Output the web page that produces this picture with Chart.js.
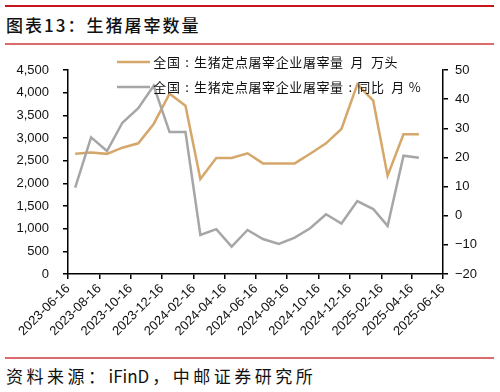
<!DOCTYPE html>
<html>
<head>
<meta charset="utf-8">
<script src="https://cdn.jsdelivr.net/npm/chart.js@4/dist/chart.umd.min.js"></script>
<style>
  html, body { margin: 0; padding: 0; background: #fff; }
  body { width: 500px; height: 392px; position: relative; overflow: hidden; }
  .rule { position: absolute; left: 5px; width: 489px; }
  #title { position: absolute; left: 6px; top: 15px; font: 17px/20px "Noto Sans CJK SC", sans-serif; letter-spacing: 2px; color: #111; font-weight: 500; white-space: nowrap; }
  #source { position: absolute; left: 6px; top: 365px; font: 17px/22px "Noto Sans CJK SC", sans-serif; letter-spacing: 3.5px; color: #111; white-space: nowrap; }
  #source .lat { letter-spacing: 0; margin-right: 3px; }
  #wrap { position: absolute; left: 0; top: 46px; width: 500px; height: 310px; }
</style>
</head>
<body>
<div class="rule" style="top:5px;height:2px;background:#C8161E;"></div>
<div id="title">图表13：生猪屠宰数量</div>
<div class="rule" style="top:43px;height:1.5px;background:#DC6B6E;"></div>
<div id="wrap"><canvas id="c" width="500" height="310"></canvas></div>
<div class="rule" style="top:357px;height:1.5px;background:#DC6B6E;"></div>
<div id="source">资料来源：<span class="lat">iFinD</span>，中邮证券研究所</div>
<script>
// ---- data ----
const months = ['2023-06-30','2023-07-31','2023-08-31','2023-09-30','2023-10-31','2023-11-30','2023-12-31',
  '2024-01-31','2024-02-29','2024-03-31','2024-04-30','2024-05-31','2024-06-30','2024-07-31','2024-08-31',
  '2024-09-30','2024-10-31','2024-11-30','2024-12-31','2025-01-31','2025-02-28','2025-03-31','2025-04-30'];
const slaughter = [2654, 2680, 2650, 2786, 2883, 3310, 3978, 3713, 2096, 2559, 2559, 2662, 2440, 2440, 2440,
  2654, 2883, 3199, 4184, 3823, 2169, 3081, 3081];
const yoy = [9.6, 26.9, 22.2, 31.9, 36.9, 44.6, 28.7, 28.7, -6.6, -4.6, -10.6, -4.9, -8.0, -9.7, -7.5,
  -4.3, 0.5, -2.7, 5.0, 2.3, -3.5, 20.6, 19.9];
const tickLabels = ['2023-06-16','2023-08-16','2023-10-16','2023-12-16','2024-02-16','2024-04-16','2024-06-16',
  '2024-08-16','2024-10-16','2024-12-16','2025-02-16','2025-04-16','2025-06-16'];
const seriesNames = ['全国:生猪定点屠宰企业屠宰量 月 万头', '全国:生猪定点屠宰企业屠宰量:同比 月 %'];

const DAY = 86400000;
const base = Date.parse(tickLabels[0] + 'T00:00:00Z');
const dayOf = s => (Date.parse(s + 'T00:00:00Z') - base) / DAY;
const tickDays = tickLabels.map(dayOf);

const ORANGE = '#D5A76A';
const GRAY = '#A6A6A6';

// draws text on a fixed grid: full-width cell for CJK and ':', half cell for other ASCII
function drawGridText(ctx, text, x, y, unit) {
  for (const ch of text) {
    const half = ch.charCodeAt(0) < 128 && ch !== ':';
    const w = half ? unit / 2 : unit;
    if (ch !== ' ') ctx.fillText(ch, x + w / 2, y);
    x += w;
  }
}

const legendPlugin = {
  id: 'manualLegend',
  afterDraw(chart) {
    const ctx = chart.ctx;
    const ys = [16, 41];
    ctx.save();
    chart.data.datasets.forEach((ds, i) => {
      ctx.strokeStyle = ds.borderColor;
      ctx.lineWidth = 2.5;
      ctx.beginPath();
      ctx.moveTo(117, ys[i]);
      ctx.lineTo(150, ys[i]);
      ctx.stroke();
      ctx.fillStyle = '#111';
      ctx.font = '13px "Noto Sans CJK SC", sans-serif';
      ctx.textBaseline = 'middle';
      ctx.textAlign = 'center';
      drawGridText(ctx, ds.label, 153, ys[i], 13.6);
    });
    ctx.restore();
  }
};

const tickFont = { family: '"Liberation Sans", Arial, sans-serif', size: 13 };

new Chart(document.getElementById('c'), {
  type: 'line',
  data: {
    datasets: [
      { label: seriesNames[0], data: months.map((m, i) => ({ x: dayOf(m), y: slaughter[i] })),
        borderColor: ORANGE, backgroundColor: ORANGE, borderWidth: 2.5, pointRadius: 0, tension: 0,
        yAxisID: 'y', order: 1 },
      { label: seriesNames[1], data: months.map((m, i) => ({ x: dayOf(m), y: yoy[i] })),
        borderColor: GRAY, backgroundColor: GRAY, borderWidth: 2.5, pointRadius: 0, tension: 0,
        yAxisID: 'y1', order: 0 }
    ]
  },
  options: {
    responsive: false,
    animation: false,
    devicePixelRatio: 1,
    layout: { padding: { top: 24, left: 0, right: 0, bottom: 0 } },
    plugins: { legend: { display: false }, tooltip: { enabled: false }, title: { display: false } },
    scales: {
      x: {
        type: 'linear',
        min: tickDays[0],
        max: tickDays[tickDays.length - 1],
        afterBuildTicks: axis => { axis.ticks = tickDays.map(v => ({ value: v })); },
        afterFit: s => { s.height = 82; },
        ticks: {
          autoSkip: false, maxRotation: 45, minRotation: 45, color: '#111', font: tickFont, padding: 2,
          callback: (v, i) => tickLabels[i]
        },
        grid: { drawOnChartArea: false, drawTicks: true, tickLength: 5, color: '#000', lineWidth: 1.5 },
        border: { display: true, color: '#000', width: 1.5 }
      },
      y: {
        position: 'left',
        min: 0, max: 4500,
        afterFit: s => { s.width = 68; },
        ticks: { stepSize: 500, color: '#111', font: tickFont, padding: 14,
          callback: v => v.toLocaleString('en-US') },
        grid: { drawOnChartArea: false, drawTicks: true, tickLength: 5, color: '#000', lineWidth: 1.5 },
        border: { display: true, color: '#000', width: 1.5 }
      },
      y1: {
        position: 'right',
        min: -20, max: 50,
        afterFit: s => { s.width = 57; },
        ticks: { stepSize: 10, color: '#111', font: tickFont, padding: 7,
          callback: v => (v < 0 ? '\u2212' + Math.abs(v) : String(v)) },
        grid: { drawOnChartArea: false, drawTicks: true, tickLength: 5, color: '#000', lineWidth: 1.5 },
        border: { display: true, color: '#000', width: 1.5 }
      }
    }
  },
  plugins: [legendPlugin]
});
</script>
</body>
</html>
